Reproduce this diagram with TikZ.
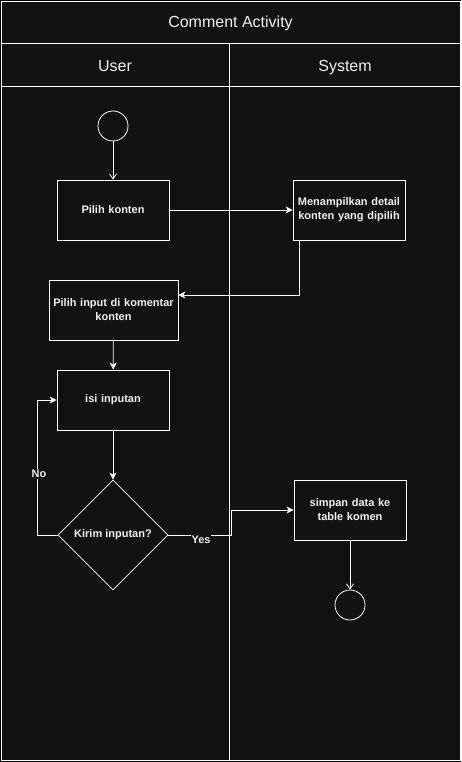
\documentclass[tikz,border=0pt]{standalone}
\usepackage{fontspec}
\setmainfont{Liberation Sans}
\usetikzlibrary{arrows.meta, calc, positioning, shapes.geometric}
\definecolor{canvasbg}{HTML}{121212}
\definecolor{inkline}{HTML}{FFFFFF}
\definecolor{inktext}{HTML}{F0F0F0}

\begin{document}
\begin{tikzpicture}[
    x=1pt, y=-1pt,
    lanetext/.style={
        font=\fontsize{16}{19}\selectfont, text=inktext,
        text height=11.5pt, text depth=2.5pt
    },
    actbox/.style={
        draw=inkline, thick, fill=canvasbg,
        minimum width=112pt, minimum height=60pt,
        font=\bfseries\fontsize{11}{14}\selectfont, text=inktext,
        text width=108pt, align=center, inner sep=0pt
    },
    decision/.style={
        draw=inkline, thick, fill=canvasbg, diamond, aspect=1,
        minimum width=110pt, minimum height=110pt, inner sep=0pt,
        font=\bfseries\fontsize{11}{14}\selectfont, text=inktext
    },
    terminal/.style={
        draw=inkline, thick, circle, minimum size=30pt, fill=canvasbg
    },
    flowarrow/.style={
        -{Stealth[length=7pt, width=7pt, inset=2pt]}, thick, draw=inkline
    },
    openarrow/.style={
        -{Straight Barb[length=5pt, width=7pt]}, thick, draw=inkline
    },
    guardlabel/.style={
        font=\bfseries\fontsize{11}{14}\selectfont, text=inktext,
        fill=canvasbg, inner sep=1pt
    },
]

% === Canvas and frame ===
\fill[black] (0,0) rectangle (461,762);
\useasboundingbox (0,0) rectangle (461,762);
\draw[inkline, thick, fill=canvasbg] (1,1) rectangle (460,760);
\draw[inkline, thick] (1,43) -- (460,43);
\draw[inkline, thick] (1,86) -- (460,86);
\draw[inkline, thick] (229.5,43) -- (229.5,760);

% === Headers ===
\node[lanetext] (title) at (230.5,23) {Comment Activity};
\node[lanetext] (laneuser) at (115,67) {User};
\node[lanetext] (lanesystem) at (345,67) {System};

% === User lane ===
\node[terminal] (start) at (113,126) {};
\node[actbox] (pilih) at (113,210) {\raisebox{-1pt}{Pilih konten}};
\node[actbox, minimum width=129pt, text width=127pt] (input) at (113.5,310) {Pilih input di komentar\\konten};
\node[actbox] (isi) at (113,400) {\raisebox{-1pt}{isi inputan}};
\node[decision] (cek) at (113,535) {Kirim inputan?};

% === System lane ===
\node[actbox] (tampil) at (349,210) {Menampilkan detail\\konten yang dipilih};
\node[actbox] (simpan) at (350,510) {simpan data ke\\table komen};
\node[terminal] (finish) at (350,605) {};

% === Turning points ===
\coordinate (noturn) at (37,535);
\coordinate (yesturn) at (231,535);

% === Connectors ===
\draw[openarrow] (start) -- (pilih);
\draw[flowarrow] (pilih) -- (tampil);
\draw[flowarrow] ([xshift=7pt]tampil.south west) |- ([yshift=15pt]input.east);
\draw[flowarrow] (input) -- (isi);
\draw[flowarrow] (isi) -- (cek);
\draw[flowarrow] (cek.west) -- (noturn) |- (isi.west);
\draw[flowarrow] (cek.east) -- (yesturn) |- (simpan.west);
\draw[openarrow] (simpan) -- (finish);

% === Guard labels ===
\node[guardlabel] (nolabel) at (39,474) {No};
\node[guardlabel] (yeslabel) at (201,540) {Yes};

\end{tikzpicture}
\end{document}
